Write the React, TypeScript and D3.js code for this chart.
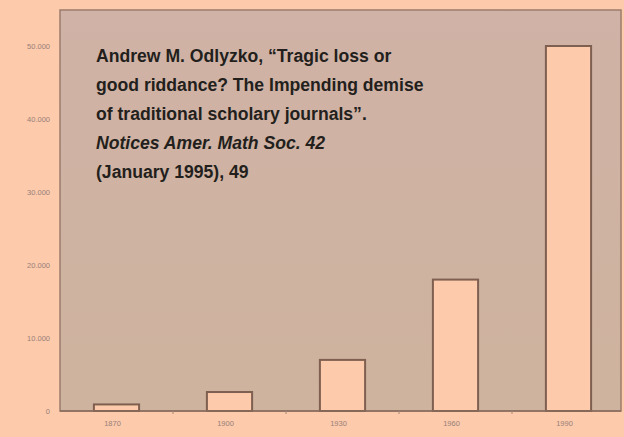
import { useEffect, useRef } from 'react';
import * as d3 from 'd3';

const years = ['1870', '1900', '1930', '1960', '1990'];
const journals = [900, 2600, 7000, 18000, 50000];
const yTicks = [0, 10000, 20000, 30000, 40000, 50000];
const noteLines = [
  { text: 'Andrew M. Odlyzko, \u201cTragic loss or', italic: false },
  { text: 'good riddance? The Impending demise', italic: false },
  { text: 'of traditional scholary journals\u201d.', italic: false },
  { text: 'Notices Amer. Math Soc. 42', italic: true },
  { text: '(January 1995), 49', italic: false },
];

const W = 624;
const H = 437;

export default function App() {
  const svgRef = useRef<SVGSVGElement | null>(null);

  useEffect(() => {
    if (!svgRef.current) return;
    const svg = d3.select(svgRef.current);
    svg.selectAll('*').remove();

    const left = 60, top = 10, right = 621, bottom = 411;

    svg.append('rect').attr('width', W).attr('height', H).attr('fill', '#fdcaab');

    const defs = svg.append('defs');
    const grad = defs.append('linearGradient').attr('id', 'plotbg').attr('x1', 0).attr('y1', 0).attr('x2', 0).attr('y2', 1);
    grad.append('stop').attr('offset', '0%').attr('stop-color', '#d0b2a6');
    grad.append('stop').attr('offset', '100%').attr('stop-color', '#ceb39e');

    svg.append('rect')
      .attr('x', left).attr('y', top).attr('width', right - left).attr('height', bottom - top)
      .attr('fill', 'url(#plotbg)').attr('stroke', '#9c7c6c').attr('stroke-width', 1.5);

    const x = d3.scaleBand().domain(years).range([left, 625]).paddingInner(0.6).paddingOuter(0.3);
    const y = d3.scaleLinear().domain([0, 50000]).range([bottom, 46]);

    // bars
    svg.selectAll('rect.bar').data(years).join('rect')
      .attr('class', 'bar')
      .attr('x', d => x(d)!).attr('y', (d, i) => y(journals[i]))
      .attr('width', x.bandwidth()).attr('height', (d, i) => bottom - y(journals[i]))
      .attr('fill', '#fdcaab').attr('stroke', '#7e5f50').attr('stroke-width', 2);

    // x axis line
    svg.append('line').attr('x1', left).attr('x2', right).attr('y1', bottom).attr('y2', bottom)
      .attr('stroke', '#8a6b5c').attr('stroke-width', 1.5);

    // small ticks between bars
    const step = x.step();
    years.forEach(yr => {
      const cx = x(yr)! + x.bandwidth() / 2 + step / 2;
      if (cx < right) {
        svg.append('line').attr('x1', cx).attr('x2', cx).attr('y1', bottom).attr('y2', bottom + 3)
          .attr('stroke', '#a58878').attr('stroke-width', 1);
      }
    });

    // y tick labels
    svg.selectAll('text.ytick').data(yTicks).join('text')
      .attr('class', 'ytick')
      .attr('x', 50).attr('y', d => y(d)).attr('dy', '0.35em')
      .attr('text-anchor', 'end')
      .style('font-family', '"Liberation Sans", Arial, sans-serif').style('font-size', '7.5px')
      .style('fill', '#978079')
      .text(d => d3.format(',')(d).replace(/,/g, '.'));

    // x tick labels
    svg.selectAll('text.xtick').data(years).join('text')
      .attr('class', 'xtick')
      .attr('x', d => x(d)! + x.bandwidth() / 2 - 4).attr('y', 426)
      .attr('text-anchor', 'middle')
      .style('font-family', '"Liberation Sans", Arial, sans-serif').style('font-size', '7.5px')
      .style('fill', '#978079')
      .text(d => d);

    // citation note
    const note = svg.append('text')
      .style('font-family', '"Liberation Sans", Arial, sans-serif')
      .style('font-size', '17.6px').style('font-weight', 'bold').style('fill', '#231f1c');
    noteLines.forEach((l, i) => {
      note.append('tspan').attr('x', 96).attr('y', 62 + i * 29)
        .style('font-style', l.italic ? 'italic' : 'normal')
        .text(l.text);
    });
  }, []);

  return (
    <div style={{ position: 'fixed', left: 0, top: 0 }}>
      <svg ref={svgRef} width={W} height={H} style={{ display: 'block' }} />
    </div>
  );
}
